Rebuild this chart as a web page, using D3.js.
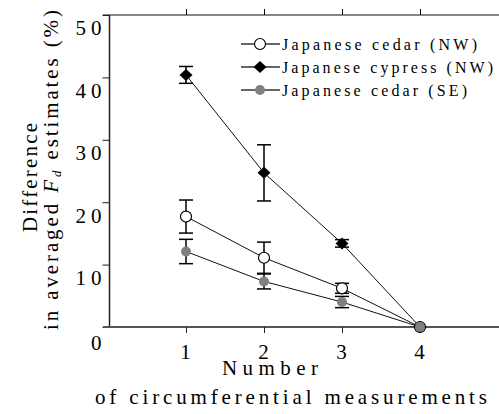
<!DOCTYPE html>
<html>
<head>
<meta charset="utf-8">
<script src="https://cdn.jsdelivr.net/npm/d3@7"></script>
<style>
  body { margin: 0; background: #fff; }
</style>
</head>
<body>
<svg id="chart" width="499" height="414"></svg>
<script>
// data
var counts = [1, 2, 3, 4];
var yTicks = [0, 10, 20, 30, 40, 50];

var cedarNW = [17.7, 11.1, 6.2, 0];
var cedarNWErr = [2.65, 2.5, 0.8, 0];
var cypressNW = [40.4, 24.7, 13.4, 0];
var cypressNWErr = [1.35, 4.5, 0.6, 0];
var cedarSE = [12.1, 7.3, 4.0, 0];
var cedarSEErr = [1.95, 1.2, 0.9, 0];

var seriesNames = ['Japanese cedar (NW)', 'Japanese cypress (NW)', 'Japanese cedar (SE)'];

var series = [
  { name: seriesNames[0], values: cedarNW, err: cedarNWErr, marker: 'circle' },
  { name: seriesNames[1], values: cypressNW, err: cypressNWErr, marker: 'diamond' },
  { name: seriesNames[2], values: cedarSE, err: cedarSEErr, marker: 'gray' }
];

var svg = d3.select('#chart');

var x = d3.scaleLinear().domain([0, 5]).range([108, 498]);
var y = d3.scaleLinear().domain([0, 50]).range([327, 15]);
var axisX = 109.5;

// top axis (ticks pointing up, no labels)
svg.append('g')
  .attr('transform', 'translate(0,' + y(50) + ')')
  .call(d3.axisTop(x).tickValues(counts).tickSize(6).tickFormat(''))
  .call(function(g) {
    g.select('.domain').attr('d', 'M103,0H499').attr('stroke', '#111');
  });

// left axis
var left = svg.append('g')
  .attr('transform', 'translate(' + axisX + ',0)')
  .call(d3.axisLeft(y).tickValues(yTicks).tickSize(7).tickPadding(3).tickFormat(d3.format('d')));
left.select('.domain').attr('d', 'M0,' + y(50) + 'V' + y(0)).attr('stroke', '#222').attr('stroke-width', 1.5);
left.selectAll('.tick line').attr('stroke', '#222');
left.selectAll('.tick text')
  .attr('font-size', 21)
  .attr('letter-spacing', 5)
  .attr('x', -3)
  .attr('dy', function(d) { return d === 0 ? '1.05em' : '0.95em'; });

// bottom axis
var bottom = svg.append('g')
  .attr('transform', 'translate(0,' + y(0) + ')')
  .call(d3.axisBottom(x).tickValues(counts).tickSize(6).tickPadding(11).tickFormat(d3.format('d')));
bottom.select('.domain').attr('d', 'M103,0H499').attr('stroke', '#555').attr('stroke-width', 2);
bottom.selectAll('.tick line').attr('stroke', '#222');
bottom.selectAll('.tick text')
  .attr('font-size', 21)
  .attr('dx', -1);

// axis titles
svg.append('text')
  .attr('x', 270).attr('y', 375)
  .attr('text-anchor', 'middle')
  .attr('font-size', 21)
  .attr('textLength', 96).attr('lengthAdjust', 'spacing')
  .text('Number');
svg.append('text')
  .attr('x', 291).attr('y', 404)
  .attr('text-anchor', 'middle')
  .attr('font-size', 21)
  .attr('textLength', 392).attr('lengthAdjust', 'spacing')
  .text('of circumferential measurements');

svg.append('text')
  .attr('transform', 'translate(37,177.5) rotate(-90)')
  .attr('text-anchor', 'middle')
  .attr('font-size', 21)
  .attr('textLength', 109).attr('lengthAdjust', 'spacing')
  .text('Difference');
var yt = svg.append('text')
  .attr('transform', 'translate(58,170) rotate(-90)')
  .attr('text-anchor', 'middle')
  .attr('font-size', 21)
  .attr('textLength', 320).attr('lengthAdjust', 'spacing');
yt.append('tspan').text('in averaged ');
yt.append('tspan').attr('font-style', 'italic').text('F');
yt.append('tspan').attr('font-style', 'italic').attr('font-size', 13).attr('dy', 3).text('d');
yt.append('tspan').attr('dy', -3).text(' estimates (%)');

// draw a marker at the origin of g
var drawMarker = function(g, kind) {
  if (kind === 'circle') {
    g.append('circle').attr('r', 5.5).attr('fill', '#fff').attr('stroke', '#000').attr('stroke-width', 1.2);
  } else if (kind === 'diamond') {
    g.append('path').attr('d', 'M0,-6L6.5,0L0,6L-6.5,0Z').attr('fill', '#000');
  } else {
    g.append('circle').attr('r', 5).attr('fill', '#808080');
  }
};

var line = d3.line()
  .x(function(d, i) { return x(counts[i]); })
  .y(function(d) { return y(d); });

// connecting lines
svg.selectAll('path.series')
  .data(series)
  .enter().append('path')
  .attr('class', 'series')
  .attr('d', function(s) { return line(s.values); })
  .attr('fill', 'none')
  .attr('stroke', '#111')
  .attr('stroke-width', 1);

// error bars
series.forEach(function(s) {
  var g = svg.append('g').attr('stroke', '#000').attr('stroke-width', 1.5);
  s.values.forEach(function(v, i) {
    var e = s.err[i];
    if (!e) return;
    var cx = x(counts[i]);
    g.append('line').attr('x1', cx).attr('x2', cx).attr('y1', y(v - e)).attr('y2', y(v + e));
    g.append('line').attr('x1', cx - 7).attr('x2', cx + 7).attr('y1', y(v - e)).attr('y2', y(v - e));
    g.append('line').attr('x1', cx - 7).attr('x2', cx + 7).attr('y1', y(v + e)).attr('y2', y(v + e));
  });
});

// markers (SE drawn last, on top at x = 4)
series.forEach(function(s) {
  s.values.forEach(function(v, i) {
    var g = svg.append('g').attr('transform', 'translate(' + x(counts[i]) + ',' + y(v) + ')');
    drawMarker(g, s.marker);
  });
});

// legend
var legend = svg.append('g');
var rowY = [44, 67, 90];
var rowLen = [195, 211, 185];
series.forEach(function(s, i) {
  var row = legend.append('g').attr('transform', 'translate(0,' + rowY[i] + ')');
  row.append('line').attr('x1', 241).attr('x2', 280).attr('stroke', '#333').attr('stroke-width', 1.5);
  drawMarker(row.append('g').attr('transform', 'translate(260,0)'), s.marker);
  row.append('text')
    .attr('x', 282).attr('y', 6)
    .attr('font-size', 16)
    .attr('textLength', rowLen[i]).attr('lengthAdjust', 'spacing')
    .text(s.name);
});

// serif everywhere, like the original figure
svg.selectAll('text')
  .style('font-family', "'Liberation Serif', serif")
  .style('fill', '#000');
svg.selectAll('g').attr('font-family', null);
</script>
</body>
</html>
